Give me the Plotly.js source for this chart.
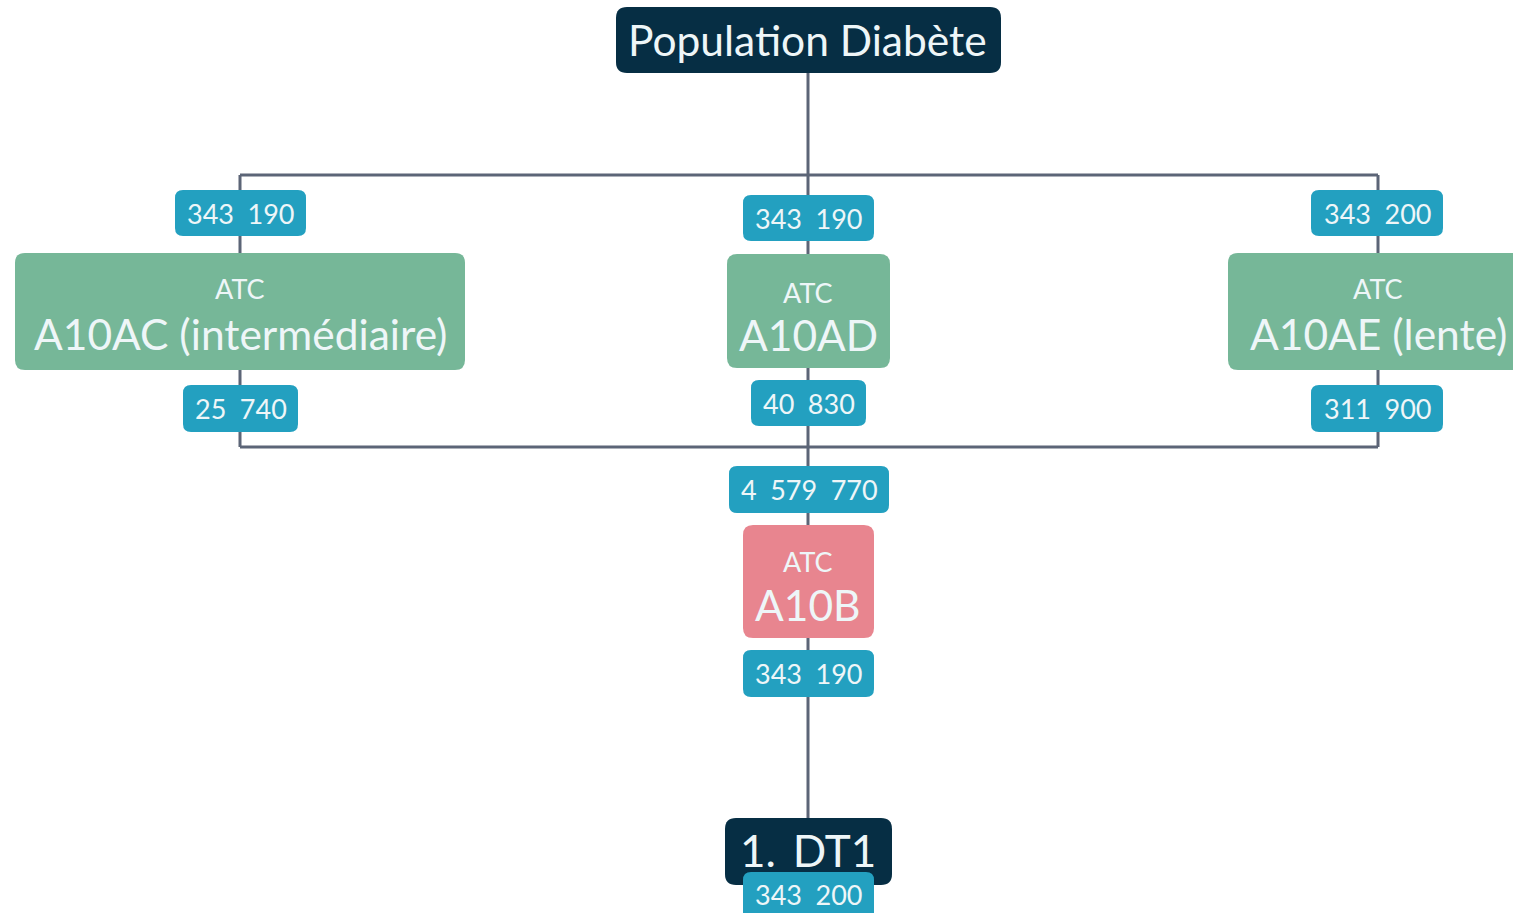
<!DOCTYPE html>
<html>
<head>
<meta charset="utf-8">
<script src="https://cdn.plot.ly/plotly-3.0.1.min.js"></script>
<style>html,body{margin:0;padding:0;background:#fff;}#chart{width:1513px;height:913px;}</style>
</head>
<body>
<div id="chart"></div>
<script>
// ---- DATA ----
const rootLabel = "Population Diabète";
const atcPrefix = "ATC";
const insulinCodes = ["A10AC (intermédiaire)", "A10AD", "A10AE (lente)"];
const insulinInCounts = [343190, 343190, 343200];
const insulinOutCounts = [25740, 40830, 311900];
const oralCode = "A10B";
const oralInCount = 4579770;
const oralOutCount = 343190;
const finalLabel = "1. \u2009DT1";
const finalCount = 343200;

// ---- GEOMETRY / STYLE ----
const W = 1513, H = 913;
const C = {navy:"#062e44", green:"#76b798", pink:"#e8858f", teal:"#23a0c0", line:"#5c6577", txt:"#eef6f8"};
const FONT = "Lato, 'Open Sans', sans-serif";
const BIG = 42.5, SMALL = 27, BADGE = 27;
const colX = [240, 808, 1378];
const greenBoxes = [[15,465,253,370],[727,890,254,368],[1228,1530,253,370]];
const atcY = [288, 292, 288];
const codeY = [333, 334, 333];
const inBadges = [[175,306,190,236],[743,874,195,241],[1311,1443,190,236]];
const outBadges = [[183,298,385,432],[751,866,380,426],[1311,1443,385,432]];

function fmt(n){ return String(n).replace(/\B(?=(\d{3})+(?!\d))/g, "\u2002"); }
function rrect(b, r, fill){
  const [x0,x1,y0,y1] = b;
  const p = `M ${x0+r},${y0} L ${x1-r},${y0} Q ${x1},${y0} ${x1},${y0+r} L ${x1},${y1-r} Q ${x1},${y1} ${x1-r},${y1} L ${x0+r},${y1} Q ${x0},${y1} ${x0},${y1-r} L ${x0},${y0+r} Q ${x0},${y0} ${x0+r},${y0} Z`;
  return {type:"path", xref:"x", yref:"y", path:p, fillcolor:fill, line:{width:0}};
}
function ln(x0,y0,x1,y1){ return {type:"line", xref:"x", yref:"y", x0, y0, x1, y1, line:{color:C.line, width:3}}; }
function txt(x,y,t,size){ return {x, y, xref:"x", yref:"y", text:t, showarrow:false, font:{family:FONT, size, color:C.txt}, xanchor:"center", yanchor:"middle"}; }

const shapes = [];
const ann = [];
// connectors
shapes.push(ln(808,40,808,175));
shapes.push(ln(colX[0],175,colX[2],175));
colX.forEach(x => shapes.push(ln(x,175,x,447)));
shapes.push(ln(colX[0],447,colX[2],447));
shapes.push(ln(808,447,808,840));

// root
shapes.push(rrect([616,1001,7,73], 11, C.navy));
ann.push(txt(807,39,rootLabel,BIG));

// insulin branches
insulinCodes.forEach((code,i) => {
  const x = colX[i];
  const g = greenBoxes[i];
  shapes.push(rrect(g, 10, C.green));
  ann.push(txt(x, atcY[i], atcPrefix, SMALL));
  ann.push(txt(x, codeY[i], code, BIG));
  const ib = inBadges[i];
  shapes.push(rrect(ib, 8, C.teal));
  ann.push(txt((ib[0]+ib[1])/2, (ib[2]+ib[3])/2, fmt(insulinInCounts[i]), BADGE));
  const ob = outBadges[i];
  shapes.push(rrect(ob, 8, C.teal));
  ann.push(txt((ob[0]+ob[1])/2, (ob[2]+ob[3])/2, fmt(insulinOutCounts[i]), BADGE));
});

// oral branch
shapes.push(rrect([729,889,466,513], 8, C.teal));
ann.push(txt(809,489,fmt(oralInCount),BADGE));
shapes.push(rrect([743,874,525,638], 10, C.pink));
ann.push(txt(808,561,atcPrefix,SMALL));
ann.push(txt(808,604,oralCode,BIG));
shapes.push(rrect([743,874,650,697], 8, C.teal));
ann.push(txt(808,673,fmt(oralOutCount),BADGE));

// final node
shapes.push(rrect([725,892,818,885], 11, C.navy));
ann.push(txt(808,850,finalLabel,44));
shapes.push(rrect([743,874,872,925], 8, C.teal));
ann.push(txt(808,894,fmt(finalCount),BADGE));

const layout = {
  width:W, height:H, margin:{l:0,r:0,t:0,b:0},
  paper_bgcolor:"#ffffff", plot_bgcolor:"#ffffff",
  xaxis:{range:[0,W], visible:false, fixedrange:true},
  yaxis:{range:[H,0], visible:false, fixedrange:true},
  showlegend:false, shapes, annotations:ann
};
Plotly.newPlot("chart", [{x:[], y:[], type:"scatter", mode:"markers", hoverinfo:"skip"}], layout, {displayModeBar:false, staticPlot:true});
</script>
</body>
</html>
